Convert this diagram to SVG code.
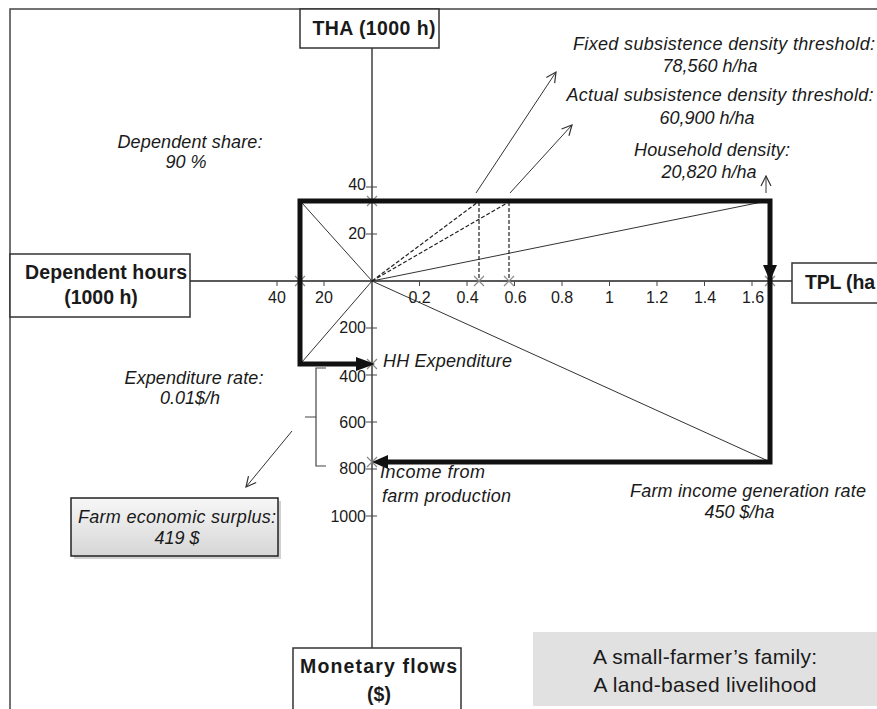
<svg xmlns="http://www.w3.org/2000/svg" width="877" height="709" viewBox="0 0 877 709">
<style>
text{font-family:"Liberation Sans",Arial,Helvetica,sans-serif;fill:#1a1a1a}
.it{font-style:italic;font-size:18px}
.b{font-weight:bold;font-size:19.5px}
.tk{font-size:16px}
.tkr{font-size:16px;text-anchor:end}
.m{text-anchor:middle}
.thin{stroke:#333;stroke-width:1;fill:none}
.dash{stroke:#222;stroke-width:1.2;fill:none;stroke-dasharray:4 2}
.tick{stroke:#444;stroke-width:1}
.xm{stroke:#8a8a8a;stroke-width:1.2;fill:none}
.box{fill:#fff;stroke:#333;stroke-width:1.5}
.thick{stroke:#111;stroke-width:5;fill:none;stroke-linejoin:miter;stroke-linecap:square}
.ah{fill:#111}
</style>
<defs>
<marker id="open" viewBox="0 0 12 12" refX="11" refY="6" markerWidth="12" markerHeight="12" markerUnits="userSpaceOnUse" orient="auto">
<path d="M1,1 L11,6 L1,11" fill="none" stroke="#333" stroke-width="1.2"/>
</marker>
<linearGradient id="g" x1="0" y1="0" x2="0" y2="1">
<stop offset="0" stop-color="#f7f7f7"/>
<stop offset="1" stop-color="#d6d6d6"/>
</linearGradient>
</defs>
<rect width="877" height="709" fill="#fff"/>
<rect x="10" y="9" width="900" height="720" fill="none" stroke="#444" stroke-width="1.5"/>

<g id="connectors">
<line x1="372" y1="48" x2="372" y2="648" stroke="#222" stroke-width="1.3"/>
<line x1="190" y1="281" x2="792" y2="281" stroke="#222" stroke-width="1.3"/>
<g class="tick">
<line x1="419.5" y1="281" x2="419.5" y2="286"/>
<line x1="467" y1="281" x2="467" y2="286"/>
<line x1="514.5" y1="281" x2="514.5" y2="286"/>
<line x1="562" y1="281" x2="562" y2="286"/>
<line x1="609.5" y1="281" x2="609.5" y2="286"/>
<line x1="657" y1="281" x2="657" y2="286"/>
<line x1="704.5" y1="281" x2="704.5" y2="286"/>
<line x1="752" y1="281" x2="752" y2="286"/>
<line x1="324" y1="281" x2="324" y2="286"/>
<line x1="277" y1="281" x2="277" y2="286"/>
<line x1="366" y1="187" x2="377" y2="187"/>
<line x1="366" y1="234" x2="377" y2="234"/>
<line x1="366" y1="328" x2="377" y2="328"/>
<line x1="366" y1="375" x2="377" y2="375"/>
<line x1="366" y1="422" x2="377" y2="422"/>
<line x1="366" y1="469" x2="377" y2="469"/>
<line x1="366" y1="516" x2="377" y2="516"/>
</g>
<line class="thin" x1="372" y1="281" x2="302" y2="203"/>
<line class="thin" x1="372" y1="281" x2="302" y2="362"/>
<line class="thin" x1="372" y1="281" x2="766" y2="460"/>
<line class="thin" x1="372" y1="281" x2="762" y2="202"/>
<line class="dash" x1="372" y1="281" x2="478" y2="202"/>
<line class="dash" x1="372" y1="281" x2="509" y2="202"/>
<line class="dash" x1="479" y1="202" x2="479" y2="281"/>
<line class="dash" x1="509" y1="202" x2="509" y2="281"/>
<line class="thin" x1="476" y1="193" x2="556" y2="72" marker-end="url(#open)"/>
<line class="thin" x1="510" y1="193" x2="572" y2="125" marker-end="url(#open)"/>
<line class="thin" x1="766" y1="193" x2="766" y2="176" marker-end="url(#open)"/>
<line class="thin" x1="292" y1="431" x2="246" y2="487" marker-end="url(#open)"/>
<path d="M326,368 H316 V466 H326 M305,417 H316" fill="none" stroke="#444" stroke-width="1.2"/>
<g class="xm">
<path d="M295,276 L305,286 M305,276 L295,286"/>
<path d="M367,196 L377,206 M377,196 L367,206"/>
<path d="M474,276 L484,286 M484,276 L474,286"/>
<path d="M504,276 L514,286 M514,276 L504,286"/>
<path d="M765,276 L775,286 M775,276 L765,286"/>
<path d="M367,359 L377,369 M377,359 L367,369"/>
<path d="M367,457 L377,467 M377,457 L367,467"/>
</g>
<path class="thick" d="M358,364 H300 V201 H770 V462 H386"/>
<polygon class="ah" points="356,357 375,364 356,371"/>
<polygon class="ah" points="763,265 770,281 777,265"/>
<polygon class="ah" points="388,455 372,462 388,469"/>
</g>

<g id="tick-labels">
<text class="tk m" x="419.5" y="303">0.2</text>
<text class="tk m" x="467.5" y="303">0.4</text>
<text class="tk m" x="515.5" y="303">0.6</text>
<text class="tk m" x="562" y="303">0.8</text>
<text class="tk m" x="609.5" y="303">1</text>
<text class="tk m" x="657" y="303">1.2</text>
<text class="tk m" x="705" y="303">1.4</text>
<text class="tk m" x="753" y="303">1.6</text>
<text class="tk m" x="324" y="303">20</text>
<text class="tk m" x="277" y="303">40</text>
<text class="tkr" x="366" y="190">40</text>
<text class="tkr" x="366" y="239">20</text>
<text class="tkr" x="366" y="333">200</text>
<text class="tkr" x="366" y="382">400</text>
<text class="tkr" x="366" y="428">600</text>
<text class="tkr" x="366" y="474">800</text>
<text class="tkr" x="366" y="522">1000</text>
</g>

<g id="node-tha">
<rect class="box" x="300" y="9" width="139" height="39"/>
<text class="b m" x="374" y="35" textLength="123">THA (1000 h)</text>
</g>
<g id="node-dependent-hours">
<rect class="box" x="10" y="254" width="180" height="63"/>
<text class="b m" x="106" y="279" textLength="162">Dependent hours</text>
<text class="b m" x="101" y="304">(1000 h)</text>
</g>
<g id="node-tpl">
<rect class="box" x="792" y="263" width="120" height="40"/>
<text class="b" x="805" y="289" textLength="70">TPL (ha</text>
</g>
<g id="node-monetary">
<rect class="box" x="293" y="648" width="168" height="80"/>
<text class="b m" x="378.5" y="673" textLength="157">Monetary flows</text>
<text class="b m" x="379" y="701">($)</text>
</g>

<g id="label-fixed">
<text class="it m" x="724" y="50" textLength="302">Fixed subsistence density threshold:</text>
<text class="it m" x="710" y="72">78,560 h/ha</text>
</g>
<g id="label-actual">
<text class="it m" x="720" y="101" textLength="307">Actual subsistence density threshold:</text>
<text class="it m" x="707" y="124">60,900 h/ha</text>
</g>
<g id="label-household">
<text class="it m" x="712" y="156" textLength="156">Household density:</text>
<text class="it m" x="709" y="178">20,820 h/ha</text>
</g>
<g id="label-dependent-share">
<text class="it m" x="190" y="148" textLength="145">Dependent share:</text>
<text class="it m" x="186" y="168">90 %</text>
</g>
<g id="label-expenditure-rate">
<text class="it m" x="194" y="384" textLength="139">Expenditure rate:</text>
<text class="it m" x="190" y="404">0.01$/h</text>
</g>
<g id="label-hh-expenditure">
<text class="it" x="383" y="367" textLength="129">HH Expenditure</text>
</g>
<g id="label-income">
<text class="it" x="380" y="478" textLength="105">Income from</text>
<text class="it" x="382" y="502" textLength="129">farm production</text>
</g>
<g id="label-farm-income-rate">
<text class="it m" x="748" y="497" textLength="236">Farm income generation rate</text>
<text class="it m" x="739.5" y="518">450 $/ha</text>
</g>
<g id="node-farm-surplus">
<rect x="74" y="501" width="207" height="58" fill="#000" opacity="0.18"/>
<rect x="71" y="498" width="207" height="58" fill="url(#g)" stroke="#222" stroke-width="1.5"/>
<text class="it m" x="177" y="523" textLength="198">Farm economic surplus:</text>
<text class="it m" x="177" y="544">419 $</text>
</g>
<g id="node-caption">
<rect x="533" y="632" width="350" height="74" fill="#e1e1e1"/>
<text class="m" x="705" y="664" font-size="21" textLength="224">A small-farmer’s family:</text>
<text class="m" x="705" y="692" font-size="21" textLength="223">A land-based livelihood</text>
</g>
</svg>
